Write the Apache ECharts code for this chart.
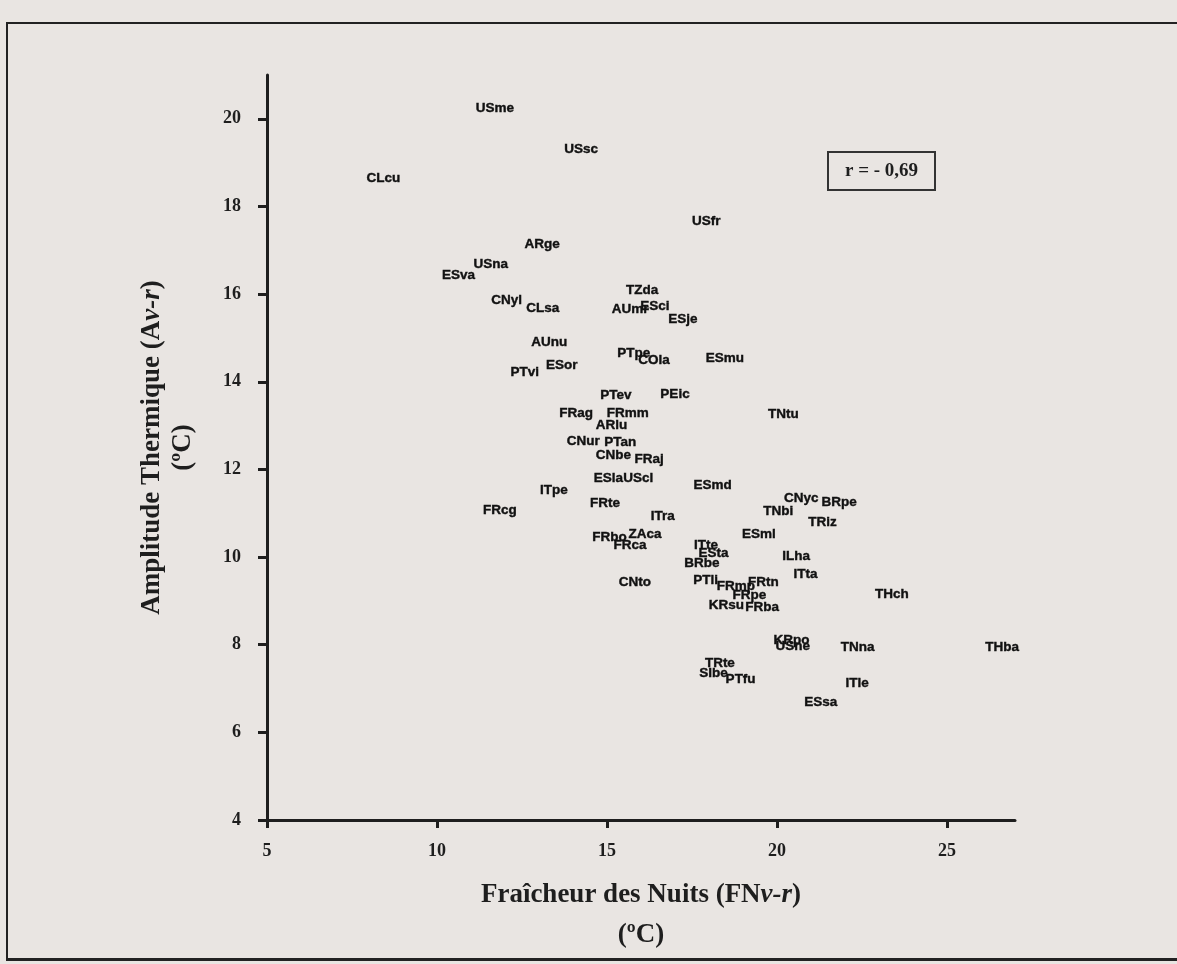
<!DOCTYPE html>
<html>
<head>
<meta charset="utf-8">
<script src="https://cdn.jsdelivr.net/npm/echarts@6/dist/echarts.min.js"></script>
<style>
  html, body { margin: 0; padding: 0; background: #e9e5e2; overflow: hidden; }
  #frame { position: absolute; left: 6px; top: 22px; width: 1200px; height: 934px;
           border-left: 2px solid #222; border-top: 2px solid #222; border-bottom: 3px solid #222; }
  #chart { position: absolute; left: 0; top: 0; width: 1177px; height: 964px; }
</style>
</head>
<body>
<div id="frame"></div>
<div id="chart"></div>
<script>
// Site codes (labels)
const sites = ["USme","USsc","CLcu","USfr","ARge","USna","ESva","TZda","CNyl","CLsa",
  "AUmr","ESci","ESje","AUnu","PTpe","COla","ESmu","ESor","PTvi","PTev",
  "PEic","TNtu","FRag","FRmm","ARlu","CNur","PTan","CNbe","FRaj","ESla",
  "UScl","ESmd","ITpe","CNyc","BRpe","FRte","FRcg","TNbi","ITra","TRiz",
  "FRbo","ZAca","FRca","ESml","ITte","ESta","ILha","BRbe","ITta","PTli",
  "CNto","FRmp","FRtn","FRpe","THch","KRsu","FRba","KRpo","USne","TNna",
  "THba","TRte","SIbe","PTfu","ITle","ESsa"];
// Fraîcheur des Nuits (ºC)
const fraicheur = [11.70,14.24,8.42,17.92,13.09,11.58,10.63,16.03,12.05,13.11,
  15.68,16.41,17.23,13.30,15.79,16.38,18.47,13.67,12.58,15.26,
  17.00,20.19,14.09,15.61,15.13,14.30,15.39,15.19,16.24,15.04,
  15.92,18.11,13.44,20.71,21.83,14.94,11.85,20.04,16.64,21.34,
  15.07,16.12,15.68,19.47,17.91,18.13,20.56,17.79,20.84,17.90,
  15.82,18.79,19.60,19.19,23.38,18.51,19.56,20.43,20.46,22.37,
  26.62,18.32,18.13,18.93,22.36,21.29];
// Amplitude Thermique (ºC)
const amplitude = [20.24,19.30,18.65,17.66,17.14,16.67,16.43,16.08,15.85,15.68,
  15.65,15.72,15.42,14.91,14.66,14.48,14.54,14.37,14.21,13.70,
  13.72,13.25,13.27,13.29,13.01,12.64,12.61,12.32,12.24,11.79,
  11.79,11.63,11.53,11.34,11.25,11.23,11.06,11.05,10.92,10.80,
  10.45,10.52,10.28,10.51,10.28,10.09,10.01,9.85,9.61,9.48,
  9.42,9.33,9.42,9.12,9.16,8.89,8.86,8.11,7.96,7.93,
  7.93,7.57,7.34,7.22,7.11,6.69];
const xTicks = [5, 10, 15, 20, 25];
const yTicks = [4, 6, 8, 10, 12, 14, 16, 18, 20];
const corrText = "r = - 0,69";

const points = sites.map((s, i) => ({ name: s, value: [fraicheur[i], amplitude[i]] }));

const chart = echarts.init(document.getElementById('chart'), null, { renderer: 'canvas' });
const serif = '"Liberation Serif", "Times New Roman", serif';
const ink = '#1e1e1e';

chart.setOption({
  backgroundColor: 'transparent',
  animation: false,
  grid: { left: 267, right: 162, top: 75, bottom: 144, containLabel: false },
  xAxis: {
    type: 'value', min: 5, max: 27, interval: 5,
    axisLine: { show: true, onZero: false, lineStyle: { color: ink, width: 3 } },
    axisTick: { show: true, inside: false, length: 8, customValues: xTicks, lineStyle: { color: ink, width: 3 } },
    axisLabel: { customValues: xTicks, margin: 22, color: ink, fontFamily: serif, fontWeight: 'bold', fontSize: 18 },
    splitLine: { show: false },
    name: '{n|Fraîcheur des Nuits (FN}{i|v-r}{n|)}\n{n|(ºC)}',
    nameLocation: 'middle', nameGap: 55,
    nameTextStyle: {
      lineHeight: 40,
      rich: {
        n: { fontFamily: serif, fontWeight: 'bold', fontSize: 27, color: ink, lineHeight: 40 },
        i: { fontFamily: serif, fontWeight: 'bold', fontStyle: 'italic', fontSize: 27, color: ink, lineHeight: 40 }
      }
    }
  },
  yAxis: {
    type: 'value', min: 4, max: 21, interval: 2,
    axisLine: { show: true, onZero: false, lineStyle: { color: ink, width: 3 } },
    axisTick: { show: true, inside: false, length: 9, customValues: yTicks, lineStyle: { color: ink, width: 3 } },
    axisLabel: { customValues: yTicks, margin: 26, color: ink, fontFamily: serif, fontWeight: 'bold', fontSize: 18 },
    splitLine: { show: false },
    name: '{n|Amplitude Thermique (A}{i|v-r}{n|)}\n{n|(ºC)}',
    nameLocation: 'middle', nameGap: 68,
    nameTextStyle: {
      lineHeight: 31,
      rich: {
        n: { fontFamily: serif, fontWeight: 'bold', fontSize: 27, color: ink, lineHeight: 31 },
        i: { fontFamily: serif, fontWeight: 'bold', fontStyle: 'italic', fontSize: 27, color: ink, lineHeight: 31 }
      }
    }
  },
  series: [{
    type: 'scatter',
    data: points,
    symbolSize: 0,
    itemStyle: { color: '#000' },
    label: {
      show: true, position: 'inside', formatter: '{b}',
      fontFamily: '"Liberation Sans", Arial, sans-serif', fontWeight: 'bold', fontSize: 13.5,
      color: '#111', textBorderColor: '#111', textBorderWidth: 0.4, opacity: 1
    },
    labelLayout: { hideOverlap: false },
    emphasis: { disabled: true }
  }],
  graphic: [{
    type: 'group', left: 827, top: 151,
    children: [
      { type: 'rect', shape: { x: 0, y: 0, width: 107, height: 38 },
        style: { fill: 'rgba(0,0,0,0)', stroke: '#333', lineWidth: 2 } },
      { type: 'text', x: 53.5, y: 19,
        style: { text: corrText, fill: ink, font: 'bold 19px "Liberation Serif", serif',
                 align: 'center', verticalAlign: 'middle' } }
    ]
  }]
});
</script>
</body>
</html>
